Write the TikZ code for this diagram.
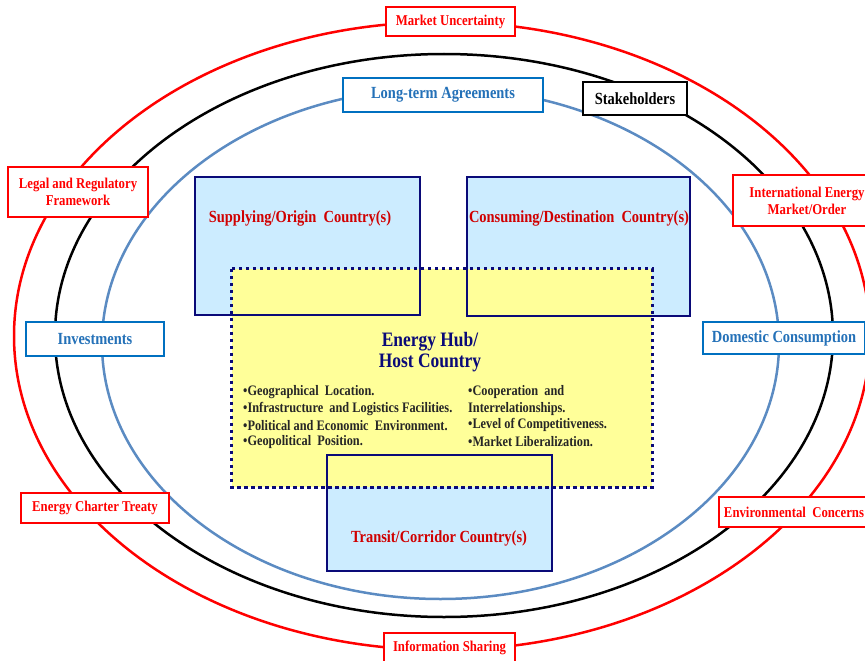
\documentclass[tikz,border=0pt]{standalone}
\usepackage{fontspec}
\setmainfont{Liberation Serif}[FakeStretch=0.85]
\definecolor{myred}{HTML}{FF0000}
\definecolor{darkred}{HTML}{D00000}
\definecolor{lblue}{HTML}{0070C0}
\definecolor{lbluetext}{HTML}{2471B8}
\definecolor{ellblue}{HTML}{5B8BC2}
\definecolor{navy}{HTML}{0A0A78}
\definecolor{boxfill}{HTML}{CCECFF}
\definecolor{hubfill}{HTML}{FFFF99}
\tikzset{
  redlab/.style={draw=myred, line width=2.5pt, fill=white, text=myred, font=\bfseries\fontsize{15}{17}\selectfont, align=center, inner sep=0pt},
  bluelab/.style={draw=lblue, line width=2.5pt, fill=white, text=lbluetext, font=\bfseries\fontsize{17}{19}\selectfont, align=center, inner sep=0pt},
  blacklab/.style={draw=black, line width=2.5pt, fill=white, text=black, font=\bfseries\fontsize{17}{19}\selectfont, align=center, inner sep=0pt},
  cbox/.style={fill=boxfill, inner sep=0pt},
  cborder/.style={draw=navy, line width=2pt},
  ctext/.style={text=darkred, font=\bfseries\fontsize{17}{19}\selectfont},
  hubbox/.style={fill=hubfill, inner sep=0pt},
  hubborder/.style={draw=navy, line width=3pt, dash pattern=on 3.5pt off 3.5pt},
  bul/.style={anchor=west, inner sep=0pt, font=\bfseries\fontsize{14.5}{16.7}\selectfont, text=black!85},
}
\begin{document}
\begin{tikzpicture}[x=1pt, y=-1pt]
\useasboundingbox (0,0) rectangle (865,661);
% ellipses
\draw[myred, line width=2.5pt] (442,336) ellipse [x radius=428pt, y radius=314pt];
\draw[black, line width=2.5pt] (444,335.5) ellipse [x radius=389pt, y radius=281.5pt];
\draw[ellblue, line width=2.5pt] (440.5,343.5) ellipse [x radius=338.5pt, y radius=255.5pt];
% country boxes (fills)
\node[cbox, minimum width=225pt, minimum height=138pt] (sup) at (307.5,246) {};
\node[cbox, minimum width=223pt, minimum height=139pt] (con) at (578.5,246.5) {};
\node[cbox, minimum width=225pt, minimum height=116pt] (tra) at (439.5,513) {};
% hub fill
\node[hubbox, minimum width=420pt, minimum height=218pt] (hub) at (442,378) {};
% borders
\draw[cborder] (sup.north west) rectangle (sup.south east);
\draw[cborder] (con.north west) rectangle (con.south east);
\draw[cborder] (tra.north west) rectangle (tra.south east);
\draw[hubborder] (hub.north west) rectangle (hub.south east);
% country texts
\node[ctext] (suptxt) at (300,218) {Supplying/Origin\ \ Country(s)};
\node[ctext] (contxt) at (579,218) {Consuming/Destination\ \ Country(s)};
\node[ctext] (tratxt) at (439,538) {Transit/Corridor Country(s)};
% hub title
\node[text=navy, font=\bfseries\fontsize{20.5}{21}\selectfont, align=center] (hubtitle) at (430,352) {Energy Hub/\\Host Country};
% bullets
\node[bul] (b1) at (243,392) {\textbullet Geographical\ \ Location.};
\node[bul] (b2) at (243,408.7) {\textbullet Infrastructure\ \ and Logistics Facilities.};
\node[bul] (b3) at (243,425.4) {\textbullet Political and Economic\ \ Environment.};
\node[bul] (b4) at (243,442) {\textbullet Geopolitical\ \ Position.};
\node[bul] (b5) at (468,392) {\textbullet Cooperation\ \ and};
\node[bul] (b6) at (468,408.7) {Interrelationships.};
\node[bul] (b7) at (468,425.4) {\textbullet Level of Competitiveness.};
\node[bul] (b8) at (468,442) {\textbullet Market Liberalization.};
% outer labels
\node[redlab, minimum width=129pt, minimum height=29pt] (mu) at (450.5,21.5) {Market Uncertainty};
\node[redlab, minimum width=131pt, minimum height=30pt] (is) at (449.5,648) {Information Sharing};
\node[redlab, minimum width=140pt, minimum height=50pt] (legal) at (78,192) {Legal and Regulatory\\Framework};
\node[redlab, minimum width=148pt, minimum height=30pt] (ect) at (95,508) {Energy Charter Treaty};
\node[redlab, minimum width=148pt, minimum height=51pt] (iem) at (807,200.5) {International Energy\\Market/Order};
\node[redlab, minimum width=150pt, minimum height=30pt] (ec) at (794,512) {Environmental\ \ Concerns};
\node[bluelab, minimum width=138pt, minimum height=34pt] (inv) at (95,339) {Investments};
\node[bluelab, minimum width=162pt, minimum height=32pt] (dc) at (784,338) {Domestic Consumption};
\node[bluelab, minimum width=200pt, minimum height=34pt] (lta) at (443,95) {Long-term Agreements};
\node[blacklab, minimum width=104pt, minimum height=33pt] (sh) at (635,98.5) {Stakeholders};
\end{tikzpicture}
\end{document}
